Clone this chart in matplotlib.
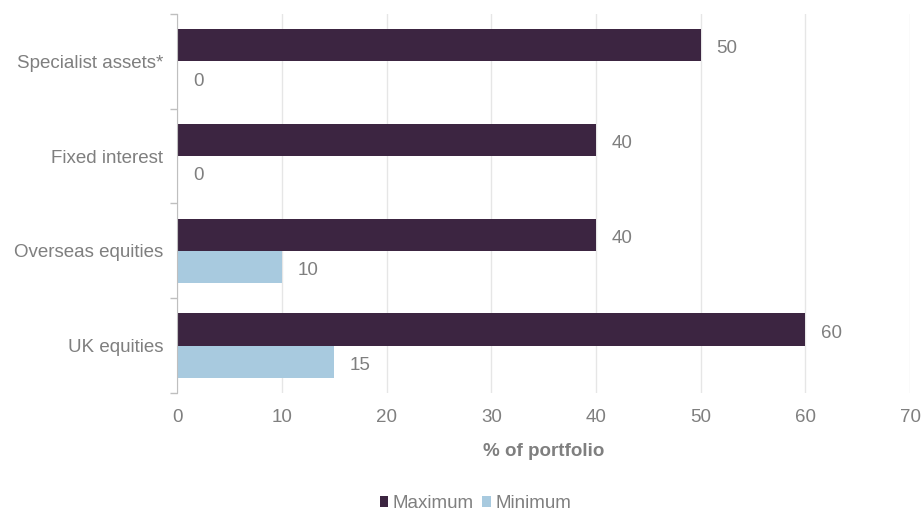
import matplotlib.pyplot as plt
import numpy as np

plt.rcParams['font.family'] = ['Liberation Sans', 'DejaVu Sans']

# data
categories = ["UK equities", "Overseas equities", "Fixed interest", "Specialist assets*"]
maximum = [60, 40, 40, 50]
minimum = [15, 10, 0, 0]

max_color = "#3c2541"
min_color = "#a8cadf"
text_color = "#7f7f7f"
fs = 13.5

fig = plt.figure(figsize=(9.23, 5.15), dpi=100)
ax = fig.add_axes([0.192, 0.237, 0.794, 0.736])

y = np.arange(len(categories))
h = 0.34
ax.barh(y + h / 2, maximum, height=h, color=max_color, label="Maximum", zorder=3)
ax.barh(y - h / 2, minimum, height=h, color=min_color, label="Minimum", zorder=3)

# value labels sit slightly below the bar centre, like the original
for yi, v in zip(y, maximum):
    ax.text(v + 1.5, yi + h / 2 - 0.04, str(v), va="center", ha="left", fontsize=fs, color=text_color)
for yi, v in zip(y, minimum):
    ax.text(v + 1.5, yi - h / 2 - 0.04, str(v), va="center", ha="left", fontsize=fs, color=text_color)

ax.set_xlim(0, 70)
ax.set_ylim(-0.5, len(categories) - 0.5)
ax.set_xticks(np.arange(0, 71, 10))
ax.set_yticks(y)
ax.set_yticklabels(categories)
ax.set_yticks(np.arange(-0.5, len(categories), 1), minor=True)

ax.tick_params(axis="y", which="major", length=0, pad=10, labelsize=fs, labelcolor=text_color)
ax.tick_params(axis="y", which="minor", length=5, color="#bfbfbf", width=1)
ax.tick_params(axis="x", length=0, pad=11.5, labelsize=fs, labelcolor=text_color)

ax.grid(axis="x", color="#e6e6e6", linewidth=1, zorder=0)
for s in ["top", "right", "bottom"]:
    ax.spines[s].set_visible(False)
ax.spines["left"].set_color("#bfbfbf")
ax.spines["left"].set_zorder(4)

ax.set_xlabel("% of portfolio", fontsize=fs, fontweight="bold", color=text_color, labelpad=12)

leg = fig.legend(loc="center", bbox_to_anchor=(0.515, 0.022), ncol=2, frameon=False,
                 fontsize=fs, handlelength=0.45, handleheight=0.45, handletextpad=0.25,
                 columnspacing=0.45, borderpad=0.1)
for t in leg.get_texts():
    t.set_color(text_color)

fig.savefig("out.png", dpi=100)
